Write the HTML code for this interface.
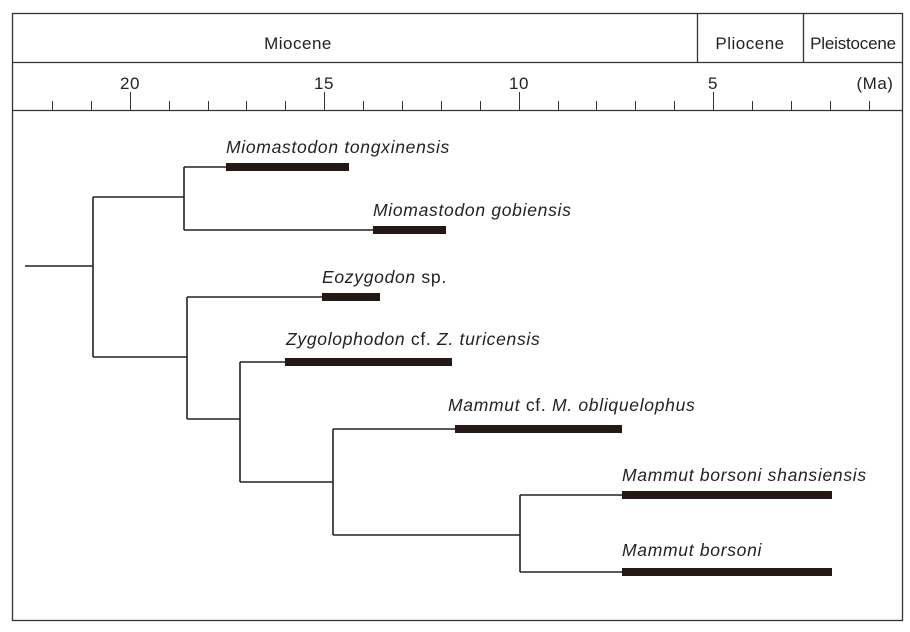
<!DOCTYPE html>
<html><head><style>
body{margin:0;background:#fff;}
svg{display:block;font-family:"Liberation Sans",sans-serif;}
</style></head><body>
<svg width="910" height="632" viewBox="0 0 910 632">
<rect x="12.5" y="13.5" width="890" height="607" fill="none" stroke="#333" stroke-width="1.3"/>
<line x1="12" y1="62.5" x2="903" y2="62.5" stroke="#333" stroke-width="1.3"/>
<line x1="12" y1="110.5" x2="903" y2="110.5" stroke="#333" stroke-width="1.3"/>
<line x1="697.5" y1="13" x2="697.5" y2="62" stroke="#333" stroke-width="1.3"/>
<line x1="803.5" y1="13" x2="803.5" y2="62" stroke="#333" stroke-width="1.3"/>
<g font-size="17" fill="#222" letter-spacing="0.5">
<text x="298" y="49" text-anchor="middle">Miocene</text>
<text x="750" y="49" text-anchor="middle">Pliocene</text>
<text x="853" y="49" text-anchor="middle" letter-spacing="-0.2">Pleistocene</text>
<text x="130" y="89" text-anchor="middle">20</text>
<text x="324" y="89" text-anchor="middle">15</text>
<text x="519" y="89" text-anchor="middle">10</text>
<text x="713" y="89" text-anchor="middle">5</text>
<text x="875" y="89" text-anchor="middle">(Ma)</text>
</g>
<g stroke="#333" stroke-width="1">
<path d="M52.5 101V110M91.5 101V110M130.5 92V110M169.5 101V110M208.5 101V110M246.5 101V110M285.5 101V110M324.5 92V110M363.5 101V110M402.5 101V110M441.5 101V110M480.5 101V110M519.5 92V110M558.5 101V110M596.5 101V110M635.5 101V110M674.5 101V110M713.5 92V110M752.5 101V110M791.5 101V110M830.5 101V110M869.5 101V110"/>
</g>
<g stroke="#222" stroke-width="1.6" fill="none">
<path d="M25 266H93M93 197V357M93 197H184M184 167V230M184 167H226M184 230H373M93 357H187M187 297V419M187 297H322M187 419H240M240 362V482M240 362H285M240 482H333M333 429V535M333 429H455M333 535H520M520 495V572M520 495H622M520 572H622"/>
</g>
<g fill="#231815">
<rect x="226" y="163" width="123" height="8"/>
<rect x="373" y="226" width="73" height="8"/>
<rect x="322" y="293" width="58" height="8"/>
<rect x="285" y="358" width="167" height="8"/>
<rect x="455" y="425" width="167" height="8"/>
<rect x="622" y="491" width="210" height="8"/>
<rect x="622" y="568" width="210" height="8"/>
</g>
<g font-size="17.5" fill="#222" letter-spacing="0.7">
<text x="226" y="153" font-style="italic">Miomastodon tongxinensis</text>
<text x="373" y="216" font-style="italic">Miomastodon gobiensis</text>
<text x="322" y="283"><tspan font-style="italic">Eozygodon</tspan> sp.</text>
<text x="286" y="345"><tspan font-style="italic">Zygolophodon</tspan> cf. <tspan font-style="italic">Z. turicensis</tspan></text>
<text x="448" y="411"><tspan font-style="italic">Mammut</tspan> cf. <tspan font-style="italic">M. obliquelophus</tspan></text>
<text x="622" y="481" font-style="italic">Mammut borsoni shansiensis</text>
<text x="622" y="556" font-style="italic">Mammut borsoni</text>
</g>
</svg>
</body></html>
